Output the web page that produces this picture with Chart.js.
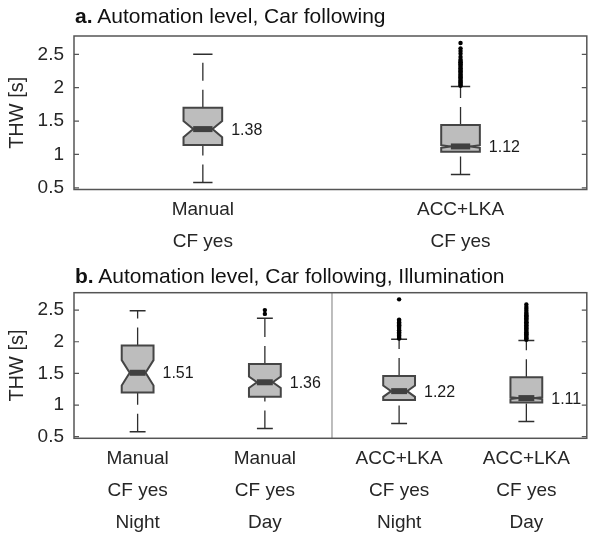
<!DOCTYPE html>
<html>
<head>
<meta charset="utf-8">
<script src="https://cdn.jsdelivr.net/npm/chart.js@4.4.1/dist/chart.umd.min.js"></script>
<style>
  body {
    margin: 0;
    background: #fff;
    width: 589px;
    height: 536px;
    position: relative;
    overflow: hidden;
    font-family: "Liberation Sans", Arial, sans-serif;
  }
  canvas { position: absolute; left: 0; }
  .ttl {
    position: absolute;
    left: 75px;
    font-size: 21px;
    color: #111;
    white-space: nowrap;
  }
</style>
</head>
<body>
<canvas id="chartA" width="589" height="260" style="top:0"></canvas>
<canvas id="chartB" width="589" height="276" style="top:260px"></canvas>
<div class="ttl" style="top:4px"><b>a.</b> Automation level, Car following</div>
<div class="ttl" style="top:264px"><b>b.</b> Automation level, Car following, Illumination</div>

<script>
/* ══════════════════════════════════════
   DATA
══════════════════════════════════════ */
const yTicks = [0.5, 1, 1.5, 2, 2.5];

// panel a
const labelsA = [["Manual", "CF yes"], ["ACC+LKA", "CF yes"]];
const groupA = [0, 0];
const medianA = [1.38, 1.12];
const q1A = [1.14, 1.04];
const q3A = [1.70, 1.44];
const whiskLoA = [0.58, 0.70];
const whiskHiA = [2.50, 2.02];
const notchA = [0.12, 0.02];
const outliersA = [
  [],
  [2.03, 2.04, 2.06, 2.08, 2.09, 2.11, 2.13, 2.15, 2.16, 2.18, 2.20, 2.22,
   2.24, 2.25, 2.27, 2.29, 2.31, 2.33, 2.35, 2.37, 2.38, 2.40, 2.42,
   2.46, 2.51, 2.55, 2.59, 2.67],
];

// panel b
const labelsB = [
  ["Manual", "CF yes", "Night"],
  ["Manual", "CF yes", "Day"],
  ["ACC+LKA", "CF yes", "Night"],
  ["ACC+LKA", "CF yes", "Day"],
];
const groupB = [0, 0, 1, 1];
const medianB = [1.51, 1.36, 1.22, 1.11];
const q1B = [1.20, 1.13, 1.08, 1.04];
const q3B = [1.94, 1.65, 1.46, 1.44];
const whiskLoB = [0.58, 0.63, 0.71, 0.74];
const whiskHiB = [2.49, 2.37, 2.04, 2.02];
const notchB = [0.20, 0.09, 0.09, 0.015];
const outliersB = [
  [],
  [2.44, 2.50],
  [2.05, 2.06, 2.08, 2.10, 2.11, 2.13, 2.15, 2.17, 2.18, 2.20, 2.22, 2.24,
   2.26, 2.27, 2.29, 2.31, 2.33, 2.35, 2.67],
  [2.03, 2.05, 2.06, 2.08, 2.10, 2.12, 2.13, 2.15, 2.17, 2.19, 2.21, 2.22,
   2.24, 2.26, 2.28, 2.30, 2.31, 2.33, 2.35, 2.37, 2.39, 2.40, 2.42, 2.44,
   2.46, 2.49, 2.52, 2.55, 2.59],
];

/* ══════════════════════════════════════
   STYLE
══════════════════════════════════════ */
const FONT = "'Liberation Sans', Arial, sans-serif";
const TEXT = "#262626";
const FACTOR_GAP = 0.055;

function positions(groups) {
  return groups.map((g, i) => i + 1 + g * FACTOR_GAP);
}

function outlierPoints(pos, outliers) {
  const pts = [];
  outliers.forEach((list, i) => {
    list.forEach((v) => pts.push({ x: pos[i], y: v }));
  });
  return pts;
}

/* ══════════════════════════════════════
   BOX PLOT PLUGIN
══════════════════════════════════════ */
function boxPlugin(box) {
  return {
    id: "notchedBoxes",

    beforeDatasetsDraw(chart) {
      const ctx = chart.ctx;
      const xs = chart.scales.x;
      const ys = chart.scales.y;
      const area = chart.chartArea;

      ctx.save();

      // separator between factor groups
      if (box.separator != null) {
        const sx = xs.getPixelForValue(box.separator);
        ctx.strokeStyle = "#a8a8a8";
        ctx.lineWidth = 1.5;
        ctx.beginPath();
        ctx.moveTo(sx, area.top);
        ctx.lineTo(sx, area.bottom);
        ctx.stroke();
      }

      box.pos.forEach((p, i) => {
        const x = xs.getPixelForValue(p);
        const half = Math.abs(xs.getPixelForValue(p + box.width / 2) - x);
        const depth = half / 2;
        const yMed = ys.getPixelForValue(box.median[i]);
        const yQ1 = ys.getPixelForValue(box.q1[i]);
        const yQ3 = ys.getPixelForValue(box.q3[i]);
        const yLo = ys.getPixelForValue(box.lo[i]);
        const yHi = ys.getPixelForValue(box.hi[i]);
        const yNlo = ys.getPixelForValue(box.median[i] - box.notch[i]);
        const yNhi = ys.getPixelForValue(box.median[i] + box.notch[i]);

        // whiskers (dashed, drawn upward)
        ctx.strokeStyle = "#2e2e2e";
        ctx.lineWidth = 1.3;
        ctx.setLineDash([18, 9]);
        ctx.beginPath();
        ctx.moveTo(x, yLo);
        ctx.lineTo(x, yQ1);
        ctx.stroke();
        ctx.beginPath();
        ctx.moveTo(x, yQ3);
        ctx.lineTo(x, yHi);
        ctx.stroke();
        ctx.setLineDash([]);

        // caps
        ctx.lineWidth = 1.5;
        ctx.beginPath();
        ctx.moveTo(x - half / 2, yLo);
        ctx.lineTo(x + half / 2, yLo);
        ctx.moveTo(x - half / 2, yHi);
        ctx.lineTo(x + half / 2, yHi);
        ctx.stroke();

        // notched box
        ctx.beginPath();
        ctx.moveTo(x - half, yQ3);
        ctx.lineTo(x + half, yQ3);
        ctx.lineTo(x + half, yNhi);
        ctx.lineTo(x + half - depth, yMed);
        ctx.lineTo(x + half, yNlo);
        ctx.lineTo(x + half, yQ1);
        ctx.lineTo(x - half, yQ1);
        ctx.lineTo(x - half, yNlo);
        ctx.lineTo(x - half + depth, yMed);
        ctx.lineTo(x - half, yNhi);
        ctx.closePath();
        ctx.fillStyle = "#bdbdbd";
        ctx.fill();
        ctx.strokeStyle = "#454545";
        ctx.lineWidth = 2;
        ctx.stroke();

        // median bar
        ctx.fillStyle = "#404040";
        ctx.fillRect(x - half + depth, yMed - 3, 2 * (half - depth), 6);

        // median label
        ctx.fillStyle = "#1a1a1a";
        ctx.font = `16px ${FONT}`;
        ctx.textAlign = "left";
        ctx.textBaseline = "middle";
        ctx.fillText(box.median[i].toFixed(2), x + half + 9, yMed + 1);
      });

      ctx.restore();
    },

    afterDraw(chart) {
      const ctx = chart.ctx;
      const ys = chart.scales.y;
      const a = chart.chartArea;

      ctx.save();
      ctx.strokeStyle = "#555";
      ctx.lineWidth = 1.5;
      ctx.strokeRect(a.left, a.top, a.right - a.left, a.bottom - a.top);

      // inward tick marks, left and right
      ctx.lineWidth = 1.2;
      ctx.beginPath();
      yTicks.forEach((t) => {
        const y = ys.getPixelForValue(t);
        ctx.moveTo(a.left, y);
        ctx.lineTo(a.left + 5, y);
        ctx.moveTo(a.right, y);
        ctx.lineTo(a.right - 5, y);
      });
      ctx.stroke();
      ctx.restore();
    },
  };
}

/* ══════════════════════════════════════
   CHART BUILDER
══════════════════════════════════════ */
function makeChart(id, opts) {
  const pos = opts.pos;

  new Chart(document.getElementById(id), {
    type: "scatter",

    data: {
      datasets: [
        {
          data: outlierPoints(pos, opts.outliers),
          pointRadius: 2.2,
          pointHoverRadius: 2.2,
          pointBackgroundColor: "#000",
          pointBorderWidth: 0,
        },
      ],
    },

    options: {
      responsive: false,
      animation: false,
      events: [],

      layout: {
        padding: { top: opts.padTop, right: 1, left: 0, bottom: 0 },
      },

      plugins: {
        legend: { display: false },
        tooltip: { enabled: false },
      },

      scales: {
        x: {
          type: "linear",
          min: opts.xMin,
          max: opts.xMax,
          grid: { display: false, drawTicks: false },
          border: { display: false },
          afterBuildTicks: (s) => {
            s.ticks = pos.map((v) => ({ value: v }));
          },
          afterFit: (s) => {
            s.height = opts.xHeight;
          },
          ticks: {
            autoSkip: false,
            maxRotation: 0,
            padding: 4,
            color: TEXT,
            font: { family: FONT, size: 19, lineHeight: 1.7 },
            callback: (v, i) => opts.labels[i],
          },
        },

        y: {
          type: "linear",
          min: 0.475,
          max: 2.775,
          grid: { display: false, drawTicks: false },
          border: { display: false },
          afterBuildTicks: (s) => {
            s.ticks = yTicks.map((v) => ({ value: v }));
          },
          afterFit: (s) => {
            s.width = 74;
          },
          ticks: {
            padding: 10,
            color: TEXT,
            font: { family: FONT, size: 19 },
            callback: (v) => String(v),
          },
          title: {
            display: true,
            text: "THW [s]",
            color: TEXT,
            font: { family: FONT, size: 20 },
            padding: { top: 5, bottom: 0 },
          },
        },
      },
    },

    plugins: [boxPlugin(opts.box)],
  });
}

/* ══════════════════════════════════════
   PANELS
══════════════════════════════════════ */
const posA = positions(groupA);
const posB = positions(groupB);

makeChart("chartA", {
  pos: posA,
  labels: labelsA,
  outliers: outliersA,
  xMin: 0.5,
  xMax: 2.49,
  padTop: 36,
  xHeight: 70.5,
  box: {
    pos: posA,
    width: 0.15,
    median: medianA,
    q1: q1A,
    q3: q3A,
    lo: whiskLoA,
    hi: whiskHiA,
    notch: notchA,
    separator: null,
  },
});

makeChart("chartB", {
  pos: posB,
  labels: labelsB,
  outliers: outliersB,
  xMin: 0.5,
  xMax: 4.53,
  padTop: 32.7,
  xHeight: 97.7,
  box: {
    pos: posB,
    width: 0.25,
    median: medianB,
    q1: q1B,
    q3: q3B,
    lo: whiskLoB,
    hi: whiskHiB,
    notch: notchB,
    separator: 2.5 + FACTOR_GAP / 2,
  },
});
</script>
</body>
</html>
